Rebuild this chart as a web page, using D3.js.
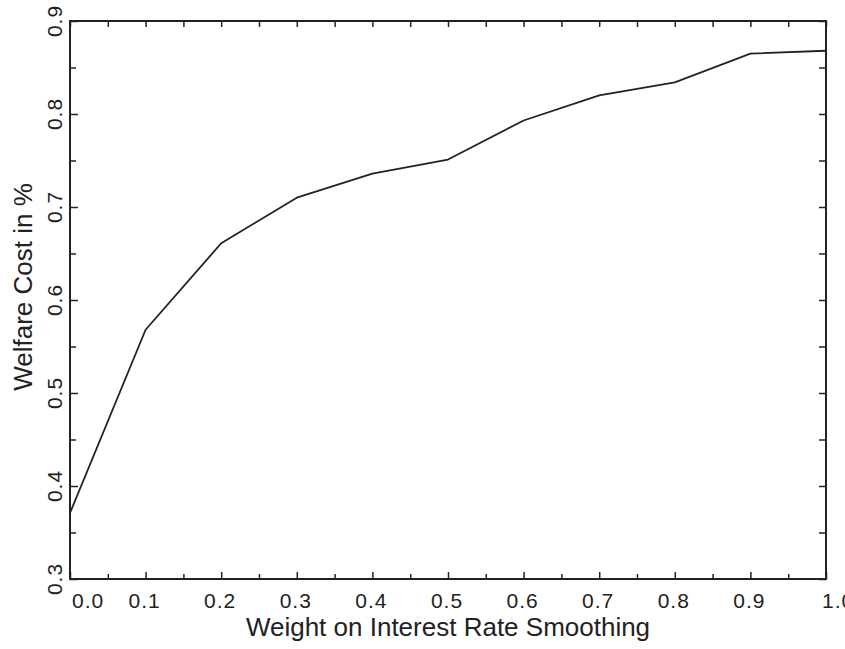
<!DOCTYPE html>
<html>
<head>
<meta charset="utf-8">
<script src="https://cdn.jsdelivr.net/npm/d3@7"></script>
<style>
  body { margin: 0; background: #fff; }
  text { font-family: Arial, "Liberation Sans", Helvetica, sans-serif; fill: #222; }
</style>
</head>
<body>
<script>
// data
const weights = [0.0, 0.1, 0.2, 0.3, 0.4, 0.5, 0.6, 0.7, 0.8, 0.9, 1.0];
const welfareCost = [0.371, 0.568, 0.661, 0.710, 0.736, 0.751, 0.793, 0.820, 0.834, 0.865, 0.868];

const xMajor = [0.0, 0.1, 0.2, 0.3, 0.4, 0.5, 0.6, 0.7, 0.8, 0.9, 1.0];
const xMinor = [0.05, 0.15, 0.25, 0.35, 0.45, 0.55, 0.65, 0.75, 0.85, 0.95];
const yMajor = [0.3, 0.4, 0.5, 0.6, 0.7, 0.8, 0.9];
const yMinor = [0.35, 0.45, 0.55, 0.65, 0.75, 0.85];

const w = 845;
const h = 649;
const margin = {top: 21, right: 19, bottom: 70, left: 70};

const svg = d3.select("body")
    .append("svg")
    .attr("width", w)
    .attr("height", h);

const x = d3.scaleLinear()
    .domain([0, 1])
    .range([margin.left, w - margin.right]);

const y = d3.scaleLinear()
    .domain([0.3, 0.9])
    .range([h - margin.bottom, margin.top]);

const ink = "#222";

// inward ticks on all four sides
function ticks(axisFn, scale, values, size, transform) {
    svg.append("g")
        .attr("transform", transform)
        .call(axisFn(scale).tickValues(values).tickSize(size).tickFormat(""))
        .call(g => g.select(".domain").remove())
        .call(g => g.selectAll("line").attr("stroke", ink).attr("stroke-width", 1.5));
}
ticks(d3.axisBottom, x, xMajor, -7, `translate(0,${y(0.3)})`);
ticks(d3.axisBottom, x, xMinor, -5, `translate(0,${y(0.3)})`);
ticks(d3.axisTop, x, xMajor, -6, `translate(0,${y(0.9)})`);
ticks(d3.axisTop, x, xMinor, -6, `translate(0,${y(0.9)})`);
ticks(d3.axisLeft, y, yMajor, -8, `translate(${x(0)},0)`);
ticks(d3.axisLeft, y, yMinor, -6, `translate(${x(0)},0)`);
ticks(d3.axisRight, y, yMajor, -7, `translate(${x(1)},0)`);
ticks(d3.axisRight, y, yMinor, -7, `translate(${x(1)},0)`);

// frame
svg.append("rect")
    .attr("x", x(0))
    .attr("y", y(0.9))
    .attr("width", x(1) - x(0))
    .attr("height", y(0.3) - y(0.9))
    .attr("fill", "none")
    .attr("stroke", ink)
    .attr("stroke-width", 2);

// x tick labels (0.0 nudged right, 1.0 runs off the edge as in the original)
svg.append("g").selectAll("text")
    .data(xMajor)
    .join("text")
    .attr("x", d => d === 0 ? x(d) + 2 : d === 1 ? x(d) - 4 : x(d) - 1)
    .attr("y", 608)
    .attr("text-anchor", d => d === 0 || d === 1 ? "start" : "middle")
    .attr("font-size", 21)
    .attr("letter-spacing", 1)
    .text(d => d.toFixed(1));

// y tick labels (rotated)
svg.append("g").selectAll("text")
    .data(yMajor)
    .join("text")
    .attr("transform", d => `translate(62,${y(d)}) rotate(-90)`)
    .attr("text-anchor", "middle")
    .attr("font-size", 21)
    .attr("letter-spacing", 1)
    .text(d => d.toFixed(1));

// axis titles
svg.append("text")
    .attr("x", (x(0) + x(1)) / 2)
    .attr("y", 636)
    .attr("text-anchor", "middle")
    .attr("font-size", 26)
    .text("Weight on Interest Rate Smoothing");

svg.append("text")
    .attr("transform", "translate(32,287) rotate(-90)")
    .attr("text-anchor", "middle")
    .attr("font-size", 26)
    .text("Welfare Cost in %");

// the line
const line = d3.line()
    .x((d, i) => x(weights[i]))
    .y(d => y(d));

svg.append("path")
    .datum(welfareCost)
    .attr("fill", "none")
    .attr("stroke", ink)
    .attr("stroke-width", 1.8)
    .attr("stroke-linejoin", "round")
    .attr("d", line);
</script>
</body>
</html>
